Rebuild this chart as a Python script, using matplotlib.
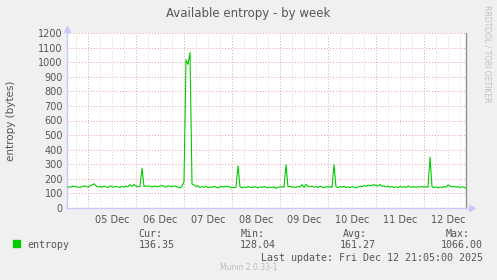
import numpy as np
import matplotlib
matplotlib.use("Agg")
import matplotlib.pyplot as plt
from matplotlib.ticker import MultipleLocator, FixedLocator

# --- DATA ---
# hours relative to 05 Dec 00:00, one sample per hour
start_hour = -10
entropy = [
    145, 142, 148, 150, 146, 144, 141, 146, 152, 148,
    # 05 Dec
    144, 150, 158, 166, 152, 145, 148, 142, 150, 146, 140, 152,
    147, 143, 149, 144, 141, 147, 143, 150, 145, 160, 148, 162,
    # 06 Dec
    150, 146, 148, 273, 147, 152, 149, 150, 143, 151, 146, 148,
    150, 154, 148, 143, 152, 149, 146, 152, 148, 142, 138, 150,
    # 07 Dec
    180, 1017, 985, 1066, 165, 158, 148, 152, 140, 147, 143, 150,
    138, 145, 141, 148, 143, 137, 145, 148, 142, 150, 146, 144,
    # 08 Dec
    141, 140, 143, 289, 146, 138, 144, 140, 147, 143, 140, 146,
    142, 139, 145, 141, 147, 143, 138, 144, 140, 146, 134, 142,
    # 09 Dec
    144, 147, 142, 296, 146, 148, 143, 146, 140, 148, 144, 160,
    141, 162, 148, 145, 150, 143, 147, 141, 149, 144, 140, 146,
    # 10 Dec
    143, 148, 140, 296, 145, 140, 147, 143, 149, 141, 145, 139,
    146, 143, 138, 144, 150, 147, 153, 149, 158, 152, 156, 160,
    # 11 Dec
    155, 150, 162, 148, 152, 145, 149, 143, 147, 141, 145, 140,
    148, 143, 146, 141, 150, 145, 143, 147, 141, 146, 144, 148,
    # 12 Dec
    143, 147, 142, 348, 146, 140, 145, 138, 143, 141, 147, 142,
    158, 150, 144, 148, 143, 147, 140, 145, 142, 136,
]
day_labels = ["05 Dec", "06 Dec", "07 Dec", "08 Dec",
              "09 Dec", "10 Dec", "11 Dec", "12 Dec"]
legend_heads = ["Cur:", "Min:", "Avg:", "Max:"]
legend_vals = ["136.35", "128.04", "161.27", "1066.00"]
# ------------

BG = "#F0F0F0"
TXT = "#555555"
MONO = "DejaVu Sans Mono"

hours = start_hour + np.arange(len(entropy))

fig = plt.figure(figsize=(4.97, 2.80), dpi=100, facecolor=BG)
ax = fig.add_axes([67 / 497, 1 - 208 / 280, 399 / 497, 175 / 280])
ax.set_facecolor("white")

ax.set_xlim(-10.5, 189)
ax.set_ylim(0, 1200)

# grid: grey every 6h, red at midnight, red every 100 bytes
for h in np.arange(-6, 189, 6):
    if h % 24 == 0:
        continue
    ax.axvline(h, color="#D8D8D8", lw=0.7, ls=(0, (1, 2)), zorder=1)
for h in np.arange(0, 189, 24):
    ax.axvline(h, color="#E8A0A0", lw=0.7, ls=(0, (1, 2)), zorder=1)
for v in range(100, 1201, 100):
    ax.axhline(v, color="#E8A0A0", lw=0.7, ls=(0, (1, 2)), zorder=1)

ax.plot(hours, entropy, color="#00CC00", lw=0.8, zorder=3)

ax.yaxis.set_major_locator(MultipleLocator(100))
ax.xaxis.set_major_locator(FixedLocator(12 + 24 * np.arange(len(day_labels))))
ax.set_xticklabels(day_labels)
ax.tick_params(axis="both", length=0, labelsize=7, labelcolor=TXT, pad=3)
ax.tick_params(axis="x", pad=5)

ax.spines["top"].set_visible(False)
ax.spines["left"].set_color("#C8C8FF")
ax.spines["bottom"].set_color("#C8C8FF")
ax.spines["right"].set_color("#909090")
for s in ["left", "bottom", "right"]:
    ax.spines[s].set_linewidth(1.0)

# axis arrows
ax.plot([0], [1.025], marker="^", ms=4, color="#C8C8FF",
        transform=ax.transAxes, clip_on=False)
ax.plot([1.015], [0], marker=">", ms=4, color="#C8C8FF",
        transform=ax.transAxes, clip_on=False)

ax.set_ylabel("entropy (bytes)", fontsize=7.5, color=TXT)
ax.yaxis.set_label_coords(-51 / 399, 0.5)

fig.text(0.5, 1 - 13 / 280, "Available entropy - by week", ha="center",
         va="center", fontsize=8.5, color=TXT)
fig.text(487 / 497, 1 - 5 / 280, "RRDTOOL / TOBI OETIKER", rotation=270,
         ha="center", va="top", fontsize=5.5, color="#C0C0C0")

# legend block
fig.patches.append(plt.Rectangle((13 / 497, 1 - 247 / 280), 7 / 497, 7 / 280,
                                 transform=fig.transFigure, color="#00CC00"))
fig.text(27 / 497, 1 - 245 / 280, "entropy", fontsize=7.2, family=MONO,
         color=TXT, va="center")
head_x = [162, 265, 367, 470]
val_x = [175, 276, 376, 483]
for hx, vx, hd, vl in zip(head_x, val_x, legend_heads, legend_vals):
    fig.text(hx / 497, 1 - 234 / 280, hd, fontsize=7.2, family=MONO,
             color=TXT, ha="right", va="center")
    fig.text(vx / 497, 1 - 245 / 280, vl, fontsize=7.2, family=MONO,
             color=TXT, ha="right", va="center")
fig.text(483 / 497, 1 - 258 / 280, "Last update: Fri Dec 12 21:05:00 2025",
         fontsize=7.2, family=MONO, color=TXT, ha="right", va="center")
fig.text(249 / 497, 1 - 268 / 280, "Munin 2.0.33-1", fontsize=5.5,
         color="#BBBBBB", ha="center", va="center")

fig.savefig("out.png", dpi=100, facecolor=BG)
